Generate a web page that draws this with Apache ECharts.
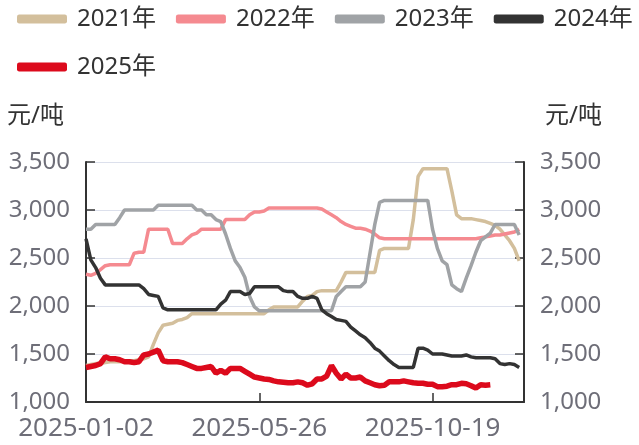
<!DOCTYPE html>
<html>
<head>
<meta charset="utf-8">
<script src="https://cdn.jsdelivr.net/npm/echarts@6/dist/echarts.min.js"></script>
<style>
html,body{margin:0;padding:0;background:#fff;}
#chart{width:639px;height:445px;}
</style>
</head>
<body>
<div id="chart"></div>
<script>
const categories = [
 '2025-01-02','2025-01-06','2025-01-10','2025-01-14','2025-01-18','2025-01-22','2025-01-26','2025-01-30',
 '2025-02-03','2025-02-07','2025-02-11','2025-02-15','2025-02-19','2025-02-23','2025-02-27',
 '2025-03-03','2025-03-07','2025-03-11','2025-03-15','2025-03-19','2025-03-23','2025-03-27','2025-03-31',
 '2025-04-04','2025-04-08','2025-04-12','2025-04-16','2025-04-20','2025-04-24','2025-04-28',
 '2025-05-02','2025-05-06','2025-05-10','2025-05-14','2025-05-18','2025-05-22','2025-05-26','2025-05-30',
 '2025-06-03','2025-06-07','2025-06-11','2025-06-15','2025-06-19','2025-06-23','2025-06-27',
 '2025-07-01','2025-07-05','2025-07-09','2025-07-13','2025-07-17','2025-07-21','2025-07-25','2025-07-29',
 '2025-08-02','2025-08-06','2025-08-10','2025-08-14','2025-08-18','2025-08-22','2025-08-26','2025-08-30',
 '2025-09-03','2025-09-07','2025-09-11','2025-09-15','2025-09-19','2025-09-23','2025-09-27',
 '2025-10-01','2025-10-05','2025-10-09','2025-10-14','2025-10-19','2025-10-23','2025-10-27','2025-10-31',
 '2025-11-04','2025-11-08','2025-11-12','2025-11-16','2025-11-20','2025-11-24','2025-11-28',
 '2025-12-02','2025-12-06','2025-12-10','2025-12-14','2025-12-18','2025-12-22','2025-12-26','2025-12-30','2025-12-31'
];

const seriesNames = ['2021年','2022年','2023年','2024年','2025年'];

const y2021 = [
 1380,1390,1400,1400,1410,1420,1420,1420,1430,1430,
 1430,1440,1450,1470,1600,1720,1800,1810,1820,1850,
 1860,1880,1920,1920,1920,1920,1920,1920,1920,1920,
 1920,1920,1920,1920,1920,1920,1920,1920,1960,1990,
 1990,1990,1990,1990,1990,2050,2100,2110,2150,2160,
 2160,2160,2160,2250,2350,2350,2350,2350,2350,2350,
 2350,2580,2600,2600,2600,2600,2600,2600,2900,3350,
 3430,3430,3430,3430,3430,3430,3200,2950,2910,2910,
 2910,2900,2890,2880,2860,2840,2800,2740,2680,2600,
 2470,null
];

const y2022 = [
 2330,2320,2340,2380,2420,2430,2430,2430,2430,2430,
 2550,2560,2560,2800,2800,2800,2800,2800,2650,2650,
 2650,2700,2740,2760,2800,2800,2800,2800,2800,2900,
 2900,2900,2900,2900,2950,2980,2980,2990,3020,3020,
 3020,3020,3020,3020,3020,3020,3020,3020,3020,3010,
 2980,2950,2920,2880,2850,2830,2810,2810,2800,2780,
 2750,2710,2700,2700,2700,2700,2700,2700,2700,2700,
 2700,2700,2700,2700,2700,2700,2700,2700,2700,2700,
 2700,2700,2710,2720,2730,2740,2740,2750,2760,2770,
 2800,null
];

const y2023 = [
 2800,2800,2850,2850,2850,2850,2850,2920,3000,3000,
 3000,3000,3000,3000,3000,3050,3050,3050,3050,3050,
 3050,3050,3050,3000,3000,2950,2950,2900,2880,2750,
 2600,2470,2400,2300,2100,1990,1950,1950,1950,1950,
 1950,1950,1950,1950,1950,1950,1950,1950,1950,1950,
 1950,1950,2100,2150,2200,2200,2200,2200,2250,2550,
 2850,3080,3100,3100,3100,3100,3100,3100,3100,3100,
 3100,3100,2800,2600,2470,2430,2220,2180,2150,2290,
 2420,2560,2680,2720,2760,2850,2850,2850,2850,2850,
 2740,null
];

const y2024 = [
 2700,2480,2400,2290,2220,2220,2220,2220,2220,2220,
 2220,2220,2180,2120,2110,2100,1980,1960,1960,1960,
 1960,1960,1960,1960,1960,1960,1960,1960,2020,2060,
 2150,2150,2150,2120,2130,2200,2200,2200,2200,2200,
 2200,2160,2150,2150,2100,2080,2080,2100,2080,1960,
 1920,1890,1860,1850,1840,1780,1740,1700,1670,1620,
 1560,1530,1480,1430,1390,1360,1360,1360,1360,1560,
 1560,1540,1500,1500,1500,1490,1480,1480,1480,1490,
 1470,1460,1460,1460,1460,1450,1400,1390,1400,1390,
 1360,null
];

const y2025 = [
 1360,1370,1380,1400,1470,1450,1450,1440,1420,1420,
 1410,1420,1490,1500,1520,1540,1430,1420,1420,1420,
 1410,1390,1370,1350,1350,1360,1370,1300,1330,1300,
 1350,1350,1350,1320,1290,1260,1250,1240,1235,1220,
 1210,1205,1200,1200,1210,1200,1175,1190,1240,1240,
 1270,1380,1300,1240,1290,1250,1250,1260,1220,1200,
 1180,1170,1175,1210,1210,1210,1220,1210,1200,1195,
 1195,1185,1185,1160,1160,1165,1180,1180,1195,1190,
 1170,1145,1180,1175,1180,null,null,null,null,null,
 null,null
];

const yTicks = {min: 1000, max: 3500, interval: 500};
const unitName = '元/吨';

const colors = ['#D3BF9C','#F58A90','#A0A3A6','#333333','#DC0A1C'];
const widths = [3.5,3.5,3.5,3.5,5.5];
const dataSets = [y2021,y2022,y2023,y2024,y2025];

const FONT = "'Noto Sans','Noto Sans CJK SC',sans-serif";
const labelColor = '#6E6E78';

function fmt(v){ return String(v).replace(/\B(?=(\d{3})+(?!\d))/g, ','); }

const legendBase = {
  left: 17, itemWidth: 50, itemHeight: 9, itemGap: 20, icon: 'roundRect',
  padding: 0,
  textStyle: {fontSize: 24, color: '#333', fontFamily: FONT, padding: [0,0,0,5]}
};

function yAxisCfg(pos){
  return {
    type: 'value', position: pos,
    min: yTicks.min, max: yTicks.max, interval: yTicks.interval,
    name: unitName, nameLocation: 'end', nameGap: 34,
    nameTextStyle: pos === 'left'
      ? {fontSize: 24, color: '#333', fontFamily: FONT, align: 'right', padding: [0, 22, 0, 0]}
      : {fontSize: 24, color: '#333', fontFamily: FONT, align: 'left', padding: [0, 0, 0, 21]},
    axisLine: {show: true, lineStyle: {color: '#333', width: 2}},
    axisTick: {show: true, inside: true, length: 9, lineStyle: {color: '#333', width: 1.5}},
    axisLabel: {fontSize: 24, color: labelColor, fontFamily: FONT, margin: 16, formatter: fmt},
    splitLine: {show: pos === 'left', lineStyle: {color: '#DCE0EC', width: 1}}
  };
}

const chart = echarts.init(document.getElementById('chart'), null, {renderer: 'canvas'});
chart.setOption({
  animation: false,
  backgroundColor: '#fff',
  textStyle: {fontFamily: FONT},
  legend: [
    Object.assign({}, legendBase, {top: 7, data: seriesNames.slice(0,4)}),
    Object.assign({}, legendBase, {top: 55, data: seriesNames.slice(4)})
  ],
  grid: {left: 86, right: 115, top: 162, bottom: 43, outerBoundsMode: 'none'},
  xAxis: {
    type: 'category', boundaryGap: false, data: categories,
    axisLine: {lineStyle: {color: '#333', width: 2}},
    axisTick: {show: true, inside: true, length: 9, interval: 35, lineStyle: {color: '#333', width: 1.5}},
    axisLabel: {interval: 35, fontSize: 26, color: labelColor, fontFamily: FONT, margin: 14},
    splitLine: {show: false}
  },
  yAxis: [yAxisCfg('left'), yAxisCfg('right')],
  series: seriesNames.map((n, k) => ({
    name: n, type: 'line', data: dataSets[k], yAxisIndex: 0,
    showSymbol: false, symbol: 'none', smooth: false, connectNulls: false,
    itemStyle: {color: colors[k]},
    lineStyle: {color: colors[k], width: widths[k]},
    z: k === 4 ? 5 : 2
  }))
});
</script>
</body>
</html>
